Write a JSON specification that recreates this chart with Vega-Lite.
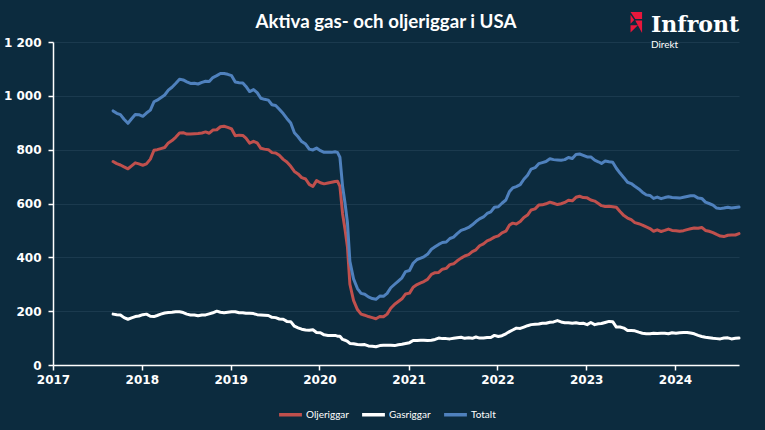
{
  "$schema": "https://vega.github.io/schema/vega-lite/v6.json",
  "width": 686,
  "height": 323,
  "autosize": {"type": "none"},
  "padding": {"left": 53, "top": 42, "right": 26, "bottom": 65},
  "background": "#0c2b3e",
  "title": {
    "text": "Aktiva gas- och oljeriggar i USA",
    "color": "#ffffff",
    "font": "Lato",
    "fontWeight": "bold",
    "fontSize": 18.7,
    "anchor": "middle",
    "baseline": "alphabetic",
    "dx": -10,
    "offset": 0,
    "dy": 35
  },
  "config": {
    "view": {"stroke": null},
    "axis": {
      "labelColor": "#ffffff",
      "labelFont": "DejaVu Sans",
      "labelFontWeight": "bold",
      "labelFontSize": 12,
      "domainColor": "#ffffff",
      "tickColor": "#ffffff",
      "tickSize": 5,
      "domainWidth": 1.5,
      "tickWidth": 1.5
    },
    "legend": {
      "labelColor": "#ffffff",
      "labelFont": "Lato",
      "labelFontSize": 10
    }
  },
  "datasets": {
    "riggar": [
      {"date":"2017-09-05","Oljeriggar":756,"Gasriggar":189,"Totalt":944},
      {"date":"2017-09-20","Oljeriggar":748,"Gasriggar":187,"Totalt":935},
      {"date":"2017-10-05","Oljeriggar":743,"Gasriggar":186,"Totalt":930},
      {"date":"2017-10-20","Oljeriggar":736,"Gasriggar":176,"Totalt":913},
      {"date":"2017-11-05","Oljeriggar":729,"Gasriggar":170,"Totalt":898},
      {"date":"2017-11-20","Oljeriggar":740,"Gasriggar":175,"Totalt":915},
      {"date":"2017-12-05","Oljeriggar":751,"Gasriggar":180,"Totalt":931},
      {"date":"2017-12-20","Oljeriggar":747,"Gasriggar":182,"Totalt":930},
      {"date":"2018-01-05","Oljeriggar":742,"Gasriggar":187,"Totalt":924},
      {"date":"2018-01-20","Oljeriggar":747,"Gasriggar":189,"Totalt":936},
      {"date":"2018-02-05","Oljeriggar":765,"Gasriggar":181,"Totalt":947},
      {"date":"2018-02-20","Oljeriggar":798,"Gasriggar":180,"Totalt":978},
      {"date":"2018-03-05","Oljeriggar":800,"Gasriggar":184,"Totalt":984},
      {"date":"2018-03-20","Oljeriggar":804,"Gasriggar":189,"Totalt":993},
      {"date":"2018-04-05","Oljeriggar":808,"Gasriggar":193,"Totalt":1003},
      {"date":"2018-04-20","Oljeriggar":825,"Gasriggar":195,"Totalt":1021},
      {"date":"2018-05-05","Oljeriggar":834,"Gasriggar":196,"Totalt":1032},
      {"date":"2018-05-20","Oljeriggar":846,"Gasriggar":198,"Totalt":1046},
      {"date":"2018-06-05","Oljeriggar":862,"Gasriggar":198,"Totalt":1062},
      {"date":"2018-06-20","Oljeriggar":863,"Gasriggar":195,"Totalt":1059},
      {"date":"2018-07-05","Oljeriggar":858,"Gasriggar":189,"Totalt":1052},
      {"date":"2018-07-20","Oljeriggar":858,"Gasriggar":186,"Totalt":1046},
      {"date":"2018-08-05","Oljeriggar":859,"Gasriggar":186,"Totalt":1047},
      {"date":"2018-08-20","Oljeriggar":860,"Gasriggar":183,"Totalt":1044},
      {"date":"2018-09-05","Oljeriggar":862,"Gasriggar":186,"Totalt":1050},
      {"date":"2018-09-20","Oljeriggar":866,"Gasriggar":186,"Totalt":1054},
      {"date":"2018-10-05","Oljeriggar":861,"Gasriggar":190,"Totalt":1053},
      {"date":"2018-10-20","Oljeriggar":873,"Gasriggar":194,"Totalt":1068},
      {"date":"2018-11-05","Oljeriggar":874,"Gasriggar":200,"Totalt":1075},
      {"date":"2018-11-20","Oljeriggar":885,"Gasriggar":196,"Totalt":1083},
      {"date":"2018-12-05","Oljeriggar":887,"Gasriggar":194,"Totalt":1083},
      {"date":"2018-12-20","Oljeriggar":883,"Gasriggar":196,"Totalt":1080},
      {"date":"2019-01-05","Oljeriggar":877,"Gasriggar":198,"Totalt":1075},
      {"date":"2019-01-20","Oljeriggar":852,"Gasriggar":198,"Totalt":1051},
      {"date":"2019-02-05","Oljeriggar":854,"Gasriggar":194,"Totalt":1049},
      {"date":"2019-02-20","Oljeriggar":853,"Gasriggar":194,"Totalt":1048},
      {"date":"2019-03-05","Oljeriggar":843,"Gasriggar":192,"Totalt":1035},
      {"date":"2019-03-20","Oljeriggar":824,"Gasriggar":192,"Totalt":1016},
      {"date":"2019-04-05","Oljeriggar":831,"Gasriggar":191,"Totalt":1023},
      {"date":"2019-04-20","Oljeriggar":825,"Gasriggar":187,"Totalt":1012},
      {"date":"2019-05-05","Oljeriggar":805,"Gasriggar":186,"Totalt":991},
      {"date":"2019-05-20","Oljeriggar":802,"Gasriggar":185,"Totalt":987},
      {"date":"2019-06-05","Oljeriggar":800,"Gasriggar":184,"Totalt":984},
      {"date":"2019-06-20","Oljeriggar":789,"Gasriggar":177,"Totalt":967},
      {"date":"2019-07-05","Oljeriggar":788,"Gasriggar":176,"Totalt":964},
      {"date":"2019-07-20","Oljeriggar":779,"Gasriggar":171,"Totalt":950},
      {"date":"2019-08-05","Oljeriggar":764,"Gasriggar":170,"Totalt":934},
      {"date":"2019-08-20","Oljeriggar":754,"Gasriggar":162,"Totalt":916},
      {"date":"2019-09-05","Oljeriggar":738,"Gasriggar":161,"Totalt":899},
      {"date":"2019-09-20","Oljeriggar":719,"Gasriggar":144,"Totalt":863},
      {"date":"2019-10-05","Oljeriggar":710,"Gasriggar":138,"Totalt":848},
      {"date":"2019-10-20","Oljeriggar":696,"Gasriggar":133,"Totalt":830},
      {"date":"2019-11-05","Oljeriggar":691,"Gasriggar":130,"Totalt":821},
      {"date":"2019-11-20","Oljeriggar":671,"Gasriggar":129,"Totalt":802},
      {"date":"2019-12-05","Oljeriggar":663,"Gasriggar":131,"Totalt":799},
      {"date":"2019-12-20","Oljeriggar":685,"Gasriggar":121,"Totalt":806},
      {"date":"2020-01-05","Oljeriggar":677,"Gasriggar":120,"Totalt":796},
      {"date":"2020-01-20","Oljeriggar":673,"Gasriggar":112,"Totalt":790},
      {"date":"2020-02-05","Oljeriggar":676,"Gasriggar":110,"Totalt":790},
      {"date":"2020-02-20","Oljeriggar":679,"Gasriggar":110,"Totalt":790},
      {"date":"2020-03-05","Oljeriggar":682,"Gasriggar":110,"Totalt":792},
      {"date":"2020-03-15","Oljeriggar":683,"Gasriggar":107,"Totalt":790},
      {"date":"2020-03-25","Oljeriggar":664,"Gasriggar":107,"Totalt":772},
      {"date":"2020-04-05","Oljeriggar":562,"Gasriggar":95,"Totalt":664},
      {"date":"2020-04-15","Oljeriggar":504,"Gasriggar":92,"Totalt":602},
      {"date":"2020-04-25","Oljeriggar":438,"Gasriggar":88,"Totalt":529},
      {"date":"2020-05-05","Oljeriggar":300,"Gasriggar":80,"Totalt":385},
      {"date":"2020-05-20","Oljeriggar":240,"Gasriggar":79,"Totalt":320},
      {"date":"2020-06-05","Oljeriggar":206,"Gasriggar":76,"Totalt":284},
      {"date":"2020-06-20","Oljeriggar":189,"Gasriggar":75,"Totalt":266},
      {"date":"2020-07-05","Oljeriggar":185,"Gasriggar":76,"Totalt":263},
      {"date":"2020-07-20","Oljeriggar":180,"Gasriggar":71,"Totalt":253},
      {"date":"2020-08-05","Oljeriggar":176,"Gasriggar":70,"Totalt":247},
      {"date":"2020-08-20","Oljeriggar":172,"Gasriggar":68,"Totalt":244},
      {"date":"2020-09-05","Oljeriggar":180,"Gasriggar":72,"Totalt":256},
      {"date":"2020-09-20","Oljeriggar":179,"Gasriggar":73,"Totalt":255},
      {"date":"2020-10-05","Oljeriggar":189,"Gasriggar":73,"Totalt":266},
      {"date":"2020-10-20","Oljeriggar":211,"Gasriggar":73,"Totalt":287},
      {"date":"2020-11-05","Oljeriggar":226,"Gasriggar":72,"Totalt":300},
      {"date":"2020-11-20","Oljeriggar":236,"Gasriggar":75,"Totalt":312},
      {"date":"2020-12-05","Oljeriggar":246,"Gasriggar":77,"Totalt":324},
      {"date":"2020-12-20","Oljeriggar":264,"Gasriggar":80,"Totalt":347},
      {"date":"2021-01-05","Oljeriggar":267,"Gasriggar":83,"Totalt":351},
      {"date":"2021-01-20","Oljeriggar":289,"Gasriggar":91,"Totalt":378},
      {"date":"2021-02-05","Oljeriggar":299,"Gasriggar":91,"Totalt":392},
      {"date":"2021-02-20","Oljeriggar":305,"Gasriggar":92,"Totalt":397},
      {"date":"2021-03-05","Oljeriggar":310,"Gasriggar":92,"Totalt":402},
      {"date":"2021-03-20","Oljeriggar":318,"Gasriggar":91,"Totalt":411},
      {"date":"2021-04-05","Oljeriggar":337,"Gasriggar":92,"Totalt":430},
      {"date":"2021-04-20","Oljeriggar":343,"Gasriggar":95,"Totalt":439},
      {"date":"2021-05-05","Oljeriggar":344,"Gasriggar":100,"Totalt":448},
      {"date":"2021-05-20","Oljeriggar":356,"Gasriggar":98,"Totalt":455},
      {"date":"2021-06-05","Oljeriggar":359,"Gasriggar":98,"Totalt":457},
      {"date":"2021-06-20","Oljeriggar":373,"Gasriggar":97,"Totalt":470},
      {"date":"2021-07-05","Oljeriggar":376,"Gasriggar":99,"Totalt":475},
      {"date":"2021-07-20","Oljeriggar":387,"Gasriggar":101,"Totalt":488},
      {"date":"2021-08-05","Oljeriggar":397,"Gasriggar":103,"Totalt":500},
      {"date":"2021-08-20","Oljeriggar":405,"Gasriggar":99,"Totalt":505},
      {"date":"2021-09-05","Oljeriggar":410,"Gasriggar":101,"Totalt":511},
      {"date":"2021-09-20","Oljeriggar":421,"Gasriggar":99,"Totalt":521},
      {"date":"2021-10-05","Oljeriggar":428,"Gasriggar":104,"Totalt":533},
      {"date":"2021-10-20","Oljeriggar":443,"Gasriggar":100,"Totalt":543},
      {"date":"2021-11-05","Oljeriggar":450,"Gasriggar":100,"Totalt":550},
      {"date":"2021-11-20","Oljeriggar":461,"Gasriggar":102,"Totalt":563},
      {"date":"2021-12-05","Oljeriggar":467,"Gasriggar":102,"Totalt":569},
      {"date":"2021-12-20","Oljeriggar":475,"Gasriggar":110,"Totalt":586},
      {"date":"2022-01-05","Oljeriggar":480,"Gasriggar":106,"Totalt":588},
      {"date":"2022-01-20","Oljeriggar":491,"Gasriggar":109,"Totalt":601},
      {"date":"2022-02-05","Oljeriggar":497,"Gasriggar":116,"Totalt":613},
      {"date":"2022-02-20","Oljeriggar":520,"Gasriggar":124,"Totalt":645},
      {"date":"2022-03-05","Oljeriggar":527,"Gasriggar":130,"Totalt":658},
      {"date":"2022-03-20","Oljeriggar":524,"Gasriggar":137,"Totalt":663},
      {"date":"2022-04-05","Oljeriggar":533,"Gasriggar":136,"Totalt":670},
      {"date":"2022-04-20","Oljeriggar":548,"Gasriggar":141,"Totalt":690},
      {"date":"2022-05-05","Oljeriggar":557,"Gasriggar":146,"Totalt":705},
      {"date":"2022-05-20","Oljeriggar":576,"Gasriggar":150,"Totalt":728},
      {"date":"2022-06-05","Oljeriggar":580,"Gasriggar":151,"Totalt":733},
      {"date":"2022-06-20","Oljeriggar":594,"Gasriggar":152,"Totalt":748},
      {"date":"2022-07-05","Oljeriggar":595,"Gasriggar":155,"Totalt":752},
      {"date":"2022-07-20","Oljeriggar":599,"Gasriggar":155,"Totalt":756},
      {"date":"2022-08-05","Oljeriggar":605,"Gasriggar":159,"Totalt":766},
      {"date":"2022-08-20","Oljeriggar":601,"Gasriggar":160,"Totalt":763},
      {"date":"2022-09-05","Oljeriggar":596,"Gasriggar":165,"Totalt":762},
      {"date":"2022-09-20","Oljeriggar":599,"Gasriggar":160,"Totalt":761},
      {"date":"2022-10-05","Oljeriggar":604,"Gasriggar":157,"Totalt":763},
      {"date":"2022-10-20","Oljeriggar":612,"Gasriggar":157,"Totalt":771},
      {"date":"2022-11-05","Oljeriggar":610,"Gasriggar":155,"Totalt":767},
      {"date":"2022-11-20","Oljeriggar":623,"Gasriggar":157,"Totalt":782},
      {"date":"2022-12-05","Oljeriggar":627,"Gasriggar":154,"Totalt":784},
      {"date":"2022-12-20","Oljeriggar":622,"Gasriggar":155,"Totalt":779},
      {"date":"2023-01-05","Oljeriggar":621,"Gasriggar":150,"Totalt":773},
      {"date":"2023-01-20","Oljeriggar":613,"Gasriggar":158,"Totalt":773},
      {"date":"2023-02-05","Oljeriggar":609,"Gasriggar":150,"Totalt":761},
      {"date":"2023-02-20","Oljeriggar":600,"Gasriggar":153,"Totalt":755},
      {"date":"2023-03-05","Oljeriggar":592,"Gasriggar":154,"Totalt":749},
      {"date":"2023-03-20","Oljeriggar":589,"Gasriggar":158,"Totalt":758},
      {"date":"2023-04-05","Oljeriggar":590,"Gasriggar":162,"Totalt":755},
      {"date":"2023-04-20","Oljeriggar":588,"Gasriggar":161,"Totalt":753},
      {"date":"2023-05-05","Oljeriggar":586,"Gasriggar":141,"Totalt":731},
      {"date":"2023-05-20","Oljeriggar":570,"Gasriggar":141,"Totalt":713},
      {"date":"2023-06-05","Oljeriggar":555,"Gasriggar":137,"Totalt":696},
      {"date":"2023-06-20","Oljeriggar":546,"Gasriggar":128,"Totalt":679},
      {"date":"2023-07-05","Oljeriggar":540,"Gasriggar":128,"Totalt":674},
      {"date":"2023-07-20","Oljeriggar":529,"Gasriggar":127,"Totalt":664},
      {"date":"2023-08-05","Oljeriggar":525,"Gasriggar":122,"Totalt":654},
      {"date":"2023-08-20","Oljeriggar":520,"Gasriggar":118,"Totalt":642},
      {"date":"2023-09-05","Oljeriggar":513,"Gasriggar":116,"Totalt":632},
      {"date":"2023-09-20","Oljeriggar":507,"Gasriggar":116,"Totalt":630},
      {"date":"2023-10-05","Oljeriggar":497,"Gasriggar":118,"Totalt":619},
      {"date":"2023-10-20","Oljeriggar":502,"Gasriggar":117,"Totalt":624},
      {"date":"2023-11-05","Oljeriggar":496,"Gasriggar":118,"Totalt":618},
      {"date":"2023-11-20","Oljeriggar":500,"Gasriggar":118,"Totalt":622},
      {"date":"2023-12-05","Oljeriggar":505,"Gasriggar":116,"Totalt":625},
      {"date":"2023-12-20","Oljeriggar":500,"Gasriggar":120,"Totalt":622},
      {"date":"2024-01-05","Oljeriggar":499,"Gasriggar":118,"Totalt":621},
      {"date":"2024-01-20","Oljeriggar":497,"Gasriggar":120,"Totalt":620},
      {"date":"2024-02-05","Oljeriggar":499,"Gasriggar":121,"Totalt":623},
      {"date":"2024-02-20","Oljeriggar":503,"Gasriggar":121,"Totalt":626},
      {"date":"2024-03-05","Oljeriggar":506,"Gasriggar":119,"Totalt":629},
      {"date":"2024-03-20","Oljeriggar":509,"Gasriggar":116,"Totalt":629},
      {"date":"2024-04-05","Oljeriggar":508,"Gasriggar":110,"Totalt":620},
      {"date":"2024-04-20","Oljeriggar":511,"Gasriggar":106,"Totalt":619},
      {"date":"2024-05-05","Oljeriggar":500,"Gasriggar":103,"Totalt":605},
      {"date":"2024-05-20","Oljeriggar":497,"Gasriggar":101,"Totalt":600},
      {"date":"2024-06-05","Oljeriggar":492,"Gasriggar":99,"Totalt":594},
      {"date":"2024-06-20","Oljeriggar":485,"Gasriggar":98,"Totalt":583},
      {"date":"2024-07-05","Oljeriggar":479,"Gasriggar":97,"Totalt":581},
      {"date":"2024-07-20","Oljeriggar":477,"Gasriggar":100,"Totalt":583},
      {"date":"2024-08-05","Oljeriggar":482,"Gasriggar":101,"Totalt":586},
      {"date":"2024-08-20","Oljeriggar":483,"Gasriggar":97,"Totalt":583},
      {"date":"2024-09-05","Oljeriggar":483,"Gasriggar":99,"Totalt":585},
      {"date":"2024-09-20","Oljeriggar":488,"Gasriggar":100,"Totalt":587}
    ],
    "logo": [
      {"date": "2023-09-24", "value": 1237, "text": "Infront", "part": "namn"},
      {"date": "2023-09-24", "value": 1178, "text": "Direkt", "part": "under"},
      {"date": "2023-07-26", "value": 1272, "text": "", "part": "ikon"}
    ]
  },
  "layer": [
    {
      "data": {"name": "riggar"},
      "transform": [
        {"fold": ["Oljeriggar", "Gasriggar", "Totalt"], "as": ["serie", "antal"]}
      ],
      "mark": {"type": "line", "strokeWidth": 3, "strokeJoin": "round", "strokeCap": "round"},
      "encoding": {
        "x": {
          "field": "date",
          "type": "temporal",
          "scale": {"domain": ["2017-01-01", "2024-09-20"]},
          "axis": {
            "title": null,
            "grid": false,
            "format": "%Y",
            "tickCount": {"interval": "year", "step": 1},
            "labelPadding": 4,
            "labelAlign": "center"
          }
        },
        "y": {
          "field": "antal",
          "type": "quantitative",
          "scale": {"domain": [0, 1200], "nice": false},
          "axis": {
            "title": null,
            "values": [0, 200, 400, 600, 800, 1000, 1200],
            "labelExpr": "replace(format(datum.value, ','), ',', ' ')",
            "grid": true,
            "gridColor": "#1b3a4e",
            "gridWidth": 1,
            "labelPadding": 7
          }
        },
        "color": {
          "field": "serie",
          "type": "nominal",
          "scale": {
            "domain": ["Oljeriggar", "Gasriggar", "Totalt"],
            "range": ["#c0504d", "#ffffff", "#4f81bd"]
          },
          "legend": {
            "title": null,
            "orient": "none",
            "legendX": 224,
            "legendY": 359,
            "direction": "horizontal",
            "symbolType": "stroke",
            "symbolStrokeWidth": 3.5,
            "symbolSize": 520,
            "labelOffset": 2,
            "columnPadding": 6
          }
        }
      }
    },
    {
      "data": {"name": "logo"},
      "transform": [{"filter": "datum.part == 'namn'"}],
      "mark": {"type": "text", "align": "left", "baseline": "alphabetic", "color": "#ffffff", "font": "DejaVu Serif", "fontWeight": "bold", "fontSize": 22},
      "encoding": {
        "x": {"field": "date", "type": "temporal"},
        "y": {"field": "value", "type": "quantitative"},
        "text": {"field": "text"}
      }
    },
    {
      "data": {"name": "logo"},
      "transform": [{"filter": "datum.part == 'under'"}],
      "mark": {"type": "text", "align": "left", "baseline": "alphabetic", "color": "#ffffff", "font": "Lato", "fontSize": 10},
      "encoding": {
        "x": {"field": "date", "type": "temporal"},
        "y": {"field": "value", "type": "quantitative"},
        "text": {"field": "text"}
      }
    },
    {
      "data": {"name": "logo"},
      "transform": [{"filter": "datum.part == 'ikon'"}],
      "mark": {
        "type": "point",
        "filled": true,
        "color": "#e8173c",
        "opacity": 1,
        "size": 441,
        "shape": "M-0.55,-1 L0.55,-1 L0.55,-0.35 L-0.1,-0.35 Z M-0.55,-0.75 L-0.2,-0.25 L-0.55,0.1 Z M-0.1,-0.2 L0.55,-0.2 L0.55,1 Z M-0.55,0.25 L0.15,0.25 L-0.55,0.95 Z"
      },
      "encoding": {
        "x": {"field": "date", "type": "temporal"},
        "y": {"field": "value", "type": "quantitative"}
      }
    }
  ]
}
